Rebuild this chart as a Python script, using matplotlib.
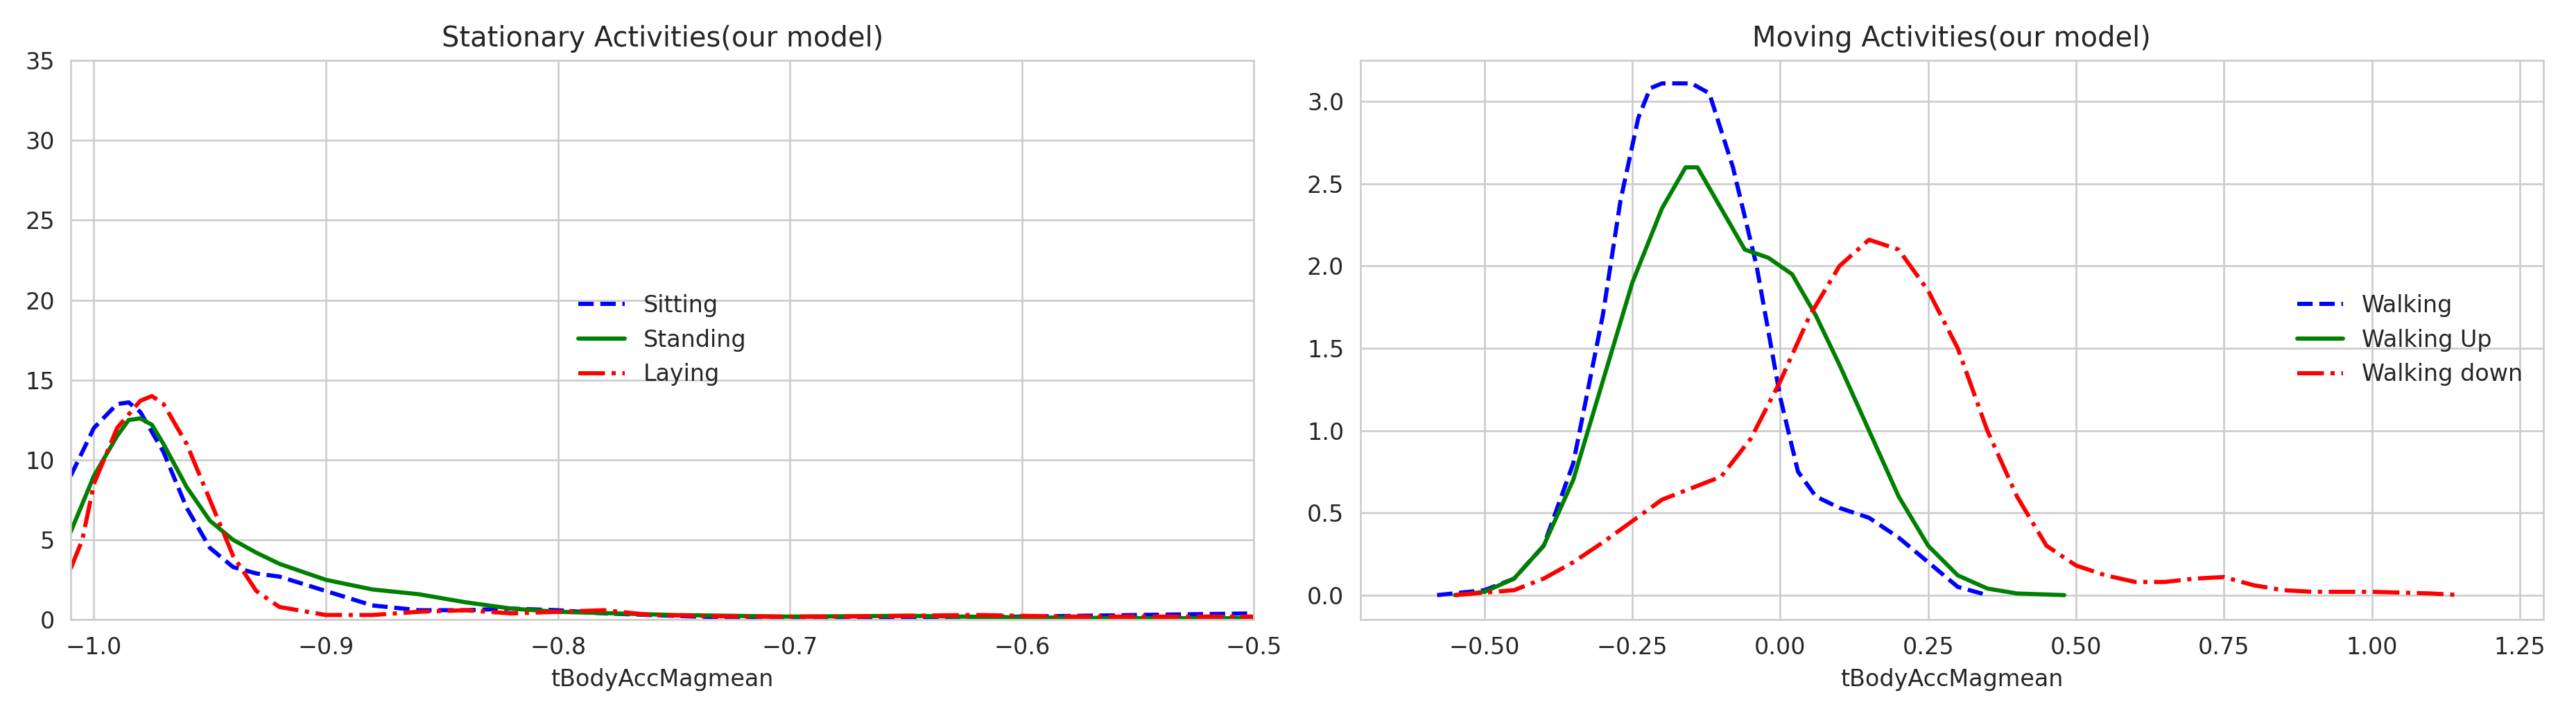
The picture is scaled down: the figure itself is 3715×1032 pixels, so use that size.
import matplotlib
matplotlib.use("Agg")
import matplotlib.pyplot as plt
import seaborn as sns
import numpy as np

sns.set_style("whitegrid")
plt.rcParams['font.family'] = ['DejaVu Sans']

sit_x = [-1.01,-1.0,-0.99,-0.985,-0.98,-0.97,-0.96,-0.95,-0.94,-0.93,-0.92,-0.9,-0.88,-0.86,-0.84,-0.82,-0.80,-0.78,-0.74,-0.7,-0.65,-0.6,-0.55,-0.5]
sit_y = [9,12,13.5,13.6,13,10.5,7,4.5,3.3,2.9,2.7,1.8,0.9,0.6,0.6,0.7,0.6,0.4,0.2,0.1,0.15,0.2,0.3,0.4]
sta_x = [-1.01,-1.0,-0.99,-0.985,-0.98,-0.975,-0.97,-0.96,-0.95,-0.94,-0.93,-0.92,-0.9,-0.88,-0.86,-0.84,-0.82,-0.8,-0.75,-0.7,-0.65,-0.6,-0.55,-0.5]
sta_y = [5.5,9,11.5,12.5,12.6,12.2,11,8.3,6.2,5,4.2,3.5,2.5,1.9,1.6,1.1,0.7,0.5,0.3,0.2,0.25,0.15,0.1,0.1]
lay_x = [-1.01,-1.005,-1.0,-0.99,-0.98,-0.975,-0.97,-0.96,-0.95,-0.94,-0.93,-0.92,-0.9,-0.88,-0.86,-0.84,-0.82,-0.8,-0.78,-0.76,-0.72,-0.68,-0.62,-0.58,-0.5]
lay_y = [3.2,5,8.5,12,13.7,14,13.5,11,7.5,4,1.8,0.8,0.3,0.3,0.5,0.6,0.4,0.5,0.6,0.3,0.2,0.2,0.3,0.2,0.2]

wk_x = [-0.58,-0.5,-0.45,-0.4,-0.35,-0.3,-0.27,-0.24,-0.22,-0.2,-0.15,-0.12,-0.08,-0.04,-0.02,0,0.03,0.06,0.1,0.15,0.2,0.25,0.3,0.35]
wk_y = [0,0.03,0.1,0.3,0.8,1.7,2.4,2.9,3.08,3.11,3.11,3.05,2.6,2.0,1.6,1.2,0.75,0.6,0.53,0.47,0.35,0.2,0.05,0.0]
wu_x = [-0.55,-0.5,-0.45,-0.4,-0.35,-0.3,-0.25,-0.2,-0.16,-0.14,-0.1,-0.06,-0.02,0.02,0.06,0.1,0.15,0.2,0.25,0.3,0.35,0.4,0.48]
wu_y = [0,0.02,0.1,0.3,0.7,1.3,1.9,2.35,2.6,2.6,2.35,2.1,2.05,1.95,1.7,1.4,1.0,0.6,0.3,0.12,0.04,0.01,0]
wd_x = [-0.55,-0.45,-0.4,-0.35,-0.3,-0.25,-0.2,-0.15,-0.1,-0.05,0,0.05,0.1,0.15,0.2,0.25,0.3,0.35,0.4,0.45,0.5,0.55,0.6,0.65,0.7,0.75,0.8,0.85,0.9,1.0,1.1,1.15]
wd_y = [0,0.03,0.1,0.2,0.32,0.45,0.58,0.65,0.72,0.95,1.3,1.7,2.0,2.16,2.1,1.85,1.5,1.0,0.6,0.3,0.18,0.12,0.08,0.08,0.1,0.11,0.06,0.03,0.02,0.02,0.01,0]

fig, (a1, a2) = plt.subplots(1, 2, figsize=(15.48, 4.3), dpi=240)
a1.plot(sit_x, sit_y, 'b--', lw=1.8, label='Sitting')
a1.plot(sta_x, sta_y, 'g-', lw=1.8, label='Standing')
a1.plot(lay_x, lay_y, 'r-.', lw=1.8, label='Laying')
a1.set_xlim(-1.01, -0.5); a1.set_ylim(0, 35)
a1.set_title('Stationary Activities(our model)')
a1.set_xlabel('tBodyAccMagmean')
a1.legend(loc='center', frameon=False)

a2.plot(wk_x, wk_y, 'b--', lw=1.8, label='Walking')
a2.plot(wu_x, wu_y, 'g-', lw=1.8, label='Walking Up')
a2.plot(wd_x, wd_y, 'r-.', lw=1.8, label='Walking down')
a2.set_xlim(-0.71, 1.29); a2.set_ylim(-0.15, 3.25)
a2.set_xticks([-0.5,-0.25,0,0.25,0.5,0.75,1.0,1.25])
a2.set_title('Moving Activities(our model)')
a2.set_xlabel('tBodyAccMagmean')
a2.legend(loc='center right', frameon=False)

plt.tight_layout()
plt.savefig('out.png')
